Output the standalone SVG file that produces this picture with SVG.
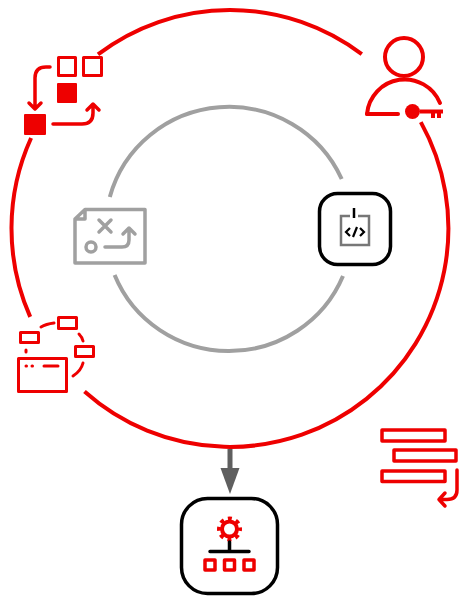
<svg xmlns="http://www.w3.org/2000/svg" width="459" height="596" viewBox="0 0 459 596">
<style>
.r{fill:none;stroke:#ee0000;stroke-width:3.500;stroke-linecap:round;stroke-linejoin:round}
.n{stroke-width:3}
.u{stroke-width:4}
.rf{fill:#ee0000;stroke:#ee0000;stroke-width:2;stroke-linejoin:round}
.g{fill:none;stroke:#a0a0a0;stroke-width:3.500;stroke-linecap:round;stroke-linejoin:round}
.o{fill:none;stroke:#ee0000;stroke-width:4}
.i{fill:none;stroke:#a0a0a0;stroke-width:4}
.b{fill:none;stroke:#000;stroke-width:3.500}
</style>
<g id="connectors">
<path class="o" d="M98 54.400A218.500 218.500 0 0 1 361.800 54.200"/>
<path class="o" d="M420.800 122.100A218.500 218.500 0 0 1 84.500 391.500"/>
<path class="o" d="M30.200 316.900A218.500 218.500 0 0 1 31.100 138"/>
<path class="i" d="M109.800 197A123.500 122 0 0 1 341.700 179"/>
<path class="i" d="M343 276A123.500 122 0 0 1 114.600 275"/>
<path d="M230 449V470" fill="none" stroke="#5f5f5f" stroke-width="5"/>
<path d="M220.500 468H239.500L230 494Z" fill="#5f5f5f"/>
</g>
<g id="node-flow">
<rect class="r n" x="58.500" y="57.500" width="17" height="18"/>
<rect class="r n" x="83.500" y="57.500" width="18" height="18"/>
<rect class="rf" x="58" y="84" width="18" height="18"/>
<rect class="rf" x="25" y="115" width="20" height="19"/>
<path class="r" d="M50 67H46Q35 67 35 78V108M29 103L35 109L41 103"/>
<path class="r" d="M53 124H82Q93 124 93 113V105M87 110L93 104L99 110"/>
</g>
<g id="node-user-key">
<circle class="r u" cx="404" cy="57" r="19"/>
<path class="r u" d="M367 114A38 38 0 0 1 440 103"/>
<path class="r u" d="M367 114H398"/>
<circle cx="412.500" cy="111.500" r="7.500" fill="#ee0000"/>
<path d="M420 109.500H443V113.500H441V118H437V113.500H435V118H431V113.500H420Z" fill="#ee0000"/>
</g>
<g id="node-map">
<path class="g" d="M85 209.500H145V263H75V219ZM85 209.500V219H75"/>
<path class="g" d="M99 220L111 232M111 220L99 232"/>
<circle class="g" cx="91" cy="247" r="5"/>
<path class="g" d="M105 247H122Q129 247 129 240V229M123 234L129 228L135 234"/>
</g>
<g id="node-code">
<rect class="b" x="319.500" y="193.500" width="71" height="71" rx="18"/>
<path d="M350 216H341V245H369V216H358" fill="none" stroke="#777" stroke-width="2.500"/>
<path d="M354 208V218" fill="none" stroke="#000" stroke-width="2.500"/>
<path d="M350 228L346 232L350 236M360 228L364 232L360 236M357 227L353 237" fill="none" stroke="#000" stroke-width="2.200"/>
</g>
<g id="node-network">
<rect class="r n" x="20.500" y="332.500" width="18" height="10"/>
<rect class="r n" x="58.500" y="317.500" width="18" height="11"/>
<rect class="r n" x="75.500" y="346.500" width="18" height="10"/>
<rect class="r n" x="18.500" y="358.500" width="48" height="33"/>
<path class="r n" d="M26 366H26.500M32 366H32.500M44 366H58"/>
<path class="r n" d="M41 327Q46 324 54 323M79 334Q82 337 83 341M83 363Q81 371 73 376M26 350V352"/>
</g>
<g id="node-list">
<rect class="r" x="382" y="430" width="63" height="11"/>
<rect class="r" x="394" y="450" width="62" height="11"/>
<rect class="r" x="382" y="471" width="63" height="10.500"/>
<path class="r" d="M457 470V490Q457 499.500 447 499.500H440M445 493L439 499.500L445 506"/>
</g>
<g id="node-bottom">
<rect class="b" x="181.500" y="498.500" width="96" height="95" rx="26"/>
<circle cx="229.500" cy="529" r="7.500" fill="none" stroke="#ee0000" stroke-width="4"/>
<circle cx="229.500" cy="529" r="10.500" fill="none" stroke="#ee0000" stroke-width="4" stroke-dasharray="4 4.250" stroke-dashoffset="2"/>
<path d="M229.500 542V551M210 551.500H249" fill="none" stroke="#000" stroke-width="3.500" stroke-linecap="round"/>
<rect class="r" x="205" y="560" width="10" height="10"/>
<rect class="r" x="224.500" y="560" width="10" height="10"/>
<rect class="r" x="244" y="560" width="10" height="10"/>
</g>
</svg>
